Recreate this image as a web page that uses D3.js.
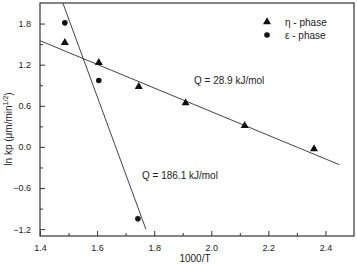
<!DOCTYPE html>
<html lang="en">
<head>
  <meta charset="UTF-8">
  <title>ln kp vs 1000/T</title>
  <script src="https://d3js.org/d3.v7.min.js"></script>
  <style>
    html, body { margin: 0; padding: 0; background: #fff; overflow: hidden; }
    svg { display: block; font-family: "Liberation Sans", Arial, sans-serif; }
  </style>
</head>
<body>
<svg width="357" height="264"></svg>
<script>
  // eta phase points
  const etaX = [1.487, 1.606, 1.746, 1.91, 2.117, 2.36];
  const etaY = [1.52, 1.23, 0.88, 0.64, 0.31, -0.03];
  // epsilon phase points
  const epsX = [1.487, 1.606, 1.743];
  const epsY = [1.81, 0.97, -1.05];
  // fitted lines (end points)
  const etaFitX = [1.4, 2.449];
  const etaFitY = [1.55, -0.26];
  const epsFitX = [1.48, 1.771];
  const epsFitY = [2.1, -1.2];

  const xTicks = [1.4, 1.6, 1.8, 2.0, 2.2, 2.4];
  const yTicks = [-1.2, -0.6, 0.0, 0.6, 1.2, 1.8];

  const svg = d3.select("svg");
  const mLeft = 40, mRight = 354, mTop = 3, mBottom = 236;

  const x = d3.scaleLinear().domain([1.4, 2.5]).range([mLeft, mRight]);
  const y = d3.scaleLinear().domain([-1.3, 2.1]).range([mBottom, mTop]);

  // frame
  svg.append("rect")
    .attr("x", mLeft).attr("y", mTop)
    .attr("width", mRight - mLeft).attr("height", mBottom - mTop)
    .attr("fill", "none").attr("stroke", "#333").attr("stroke-width", 1.2);

  // axes with inward ticks
  svg.append("g").attr("transform", `translate(0,${mBottom})`)
    .call(d3.axisBottom(x).tickValues(xTicks).tickFormat(d3.format(".1f"))
      .tickSizeInner(-5).tickSizeOuter(0).tickPadding(9));
  svg.append("g").attr("transform", `translate(0,${mBottom})`)
    .call(d3.axisBottom(x).tickValues(d3.range(1.5, 2.5, 0.2)).tickFormat("")
      .tickSizeInner(-3).tickSizeOuter(0));

  const yAxis = svg.append("g").attr("transform", `translate(${mLeft},0)`)
    .call(d3.axisLeft(y).tickValues(yTicks).tickFormat(d3.format(".1f"))
      .tickSizeInner(-5).tickSizeOuter(0).tickPadding(9));
  svg.append("g").attr("transform", `translate(${mLeft},0)`)
    .call(d3.axisLeft(y).tickValues(d3.range(-0.9, 2.1, 0.6)).tickFormat("")
      .tickSizeInner(-3).tickSizeOuter(0));

  svg.selectAll(".domain").remove();
  svg.selectAll(".tick line").attr("stroke", "#333");
  svg.selectAll(".tick text").attr("font-size", 9).attr("fill", "#222")
    .attr("font-family", "Liberation Sans, Arial, sans-serif");
  yAxis.selectAll(".tick text").attr("dy", "0.32em");

  // fit lines
  const line = d3.line().x(d => x(d[0])).y(d => y(d[1]));
  svg.append("path").datum(d3.zip(etaFitX, etaFitY))
    .attr("d", line).attr("fill", "none").attr("stroke", "#444").attr("stroke-width", 1);
  svg.append("path").datum(d3.zip(epsFitX, epsFitY))
    .attr("d", line).attr("fill", "none").attr("stroke", "#444").attr("stroke-width", 1);

  // points
  const tri = d3.symbol().type(d3.symbolTriangle).size(28);
  svg.append("g").selectAll("path")
    .data(d3.zip(etaX, etaY))
    .join("path")
    .attr("d", tri)
    .attr("transform", d => `translate(${x(d[0])},${y(d[1])})`)
    .attr("fill", "#111");

  svg.append("g").selectAll("circle")
    .data(d3.zip(epsX, epsY))
    .join("circle")
    .attr("cx", d => x(d[0])).attr("cy", d => y(d[1]))
    .attr("r", 2.8).attr("fill", "#111");

  // legend
  svg.append("path").attr("d", tri).attr("transform", "translate(267,22)").attr("fill", "#111");
  svg.append("circle").attr("cx", 267).attr("cy", 35).attr("r", 2.8).attr("fill", "#111");
  svg.append("text").attr("x", 285).attr("y", 26).attr("font-size", 10).attr("fill", "#222")
    .text("η  - phase");
  svg.append("text").attr("x", 285).attr("y", 39).attr("font-size", 10).attr("fill", "#222")
    .text("ε  - phase");

  // annotations
  svg.append("text").attr("x", 194).attr("y", 84).attr("font-size", 10).attr("fill", "#222")
    .text("Q = 28.9 kJ/mol");
  svg.append("text").attr("x", 142).attr("y", 179).attr("font-size", 10).attr("fill", "#222")
    .text("Q = 186.1 kJ/mol");

  // axis titles
  svg.append("text").attr("x", 195).attr("y", 262).attr("text-anchor", "middle")
    .attr("font-size", 10).attr("fill", "#222").text("1000/T");

  const yl = svg.append("text")
    .attr("transform", "translate(12,129) rotate(-90)")
    .attr("text-anchor", "middle").attr("font-size", 10).attr("fill", "#222");
  yl.append("tspan").text("ln kp (μm/min");
  yl.append("tspan").attr("font-size", 7).attr("dy", "-0.6em").text("1/2");
  yl.append("tspan").attr("dy", "0.42em").text(")");
</script>
</body>
</html>
